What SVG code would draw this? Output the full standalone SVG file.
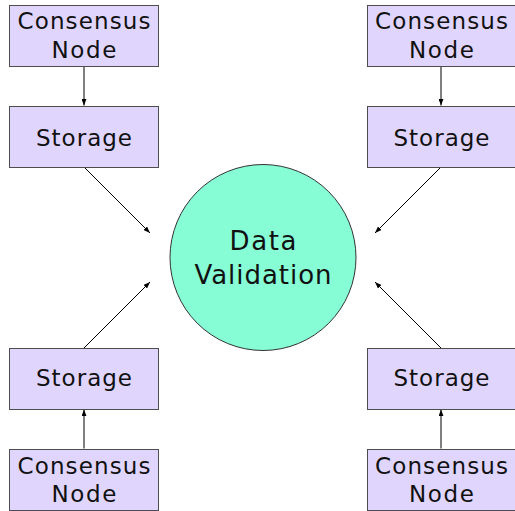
<svg xmlns="http://www.w3.org/2000/svg" width="515" height="511" viewBox="0 0 515 511">
  <style>
    .box { fill: #e0d6fd; stroke: #4d4d4d; stroke-width: 1; }
    .hub { fill: #86fdd4; stroke: #333; stroke-width: 1; }
    .lbl { font-family: "DejaVu Sans", "Liberation Sans", sans-serif; font-size: 23px; fill: #111; text-anchor: middle; }
    .big { font-size: 26px; }
    .edge { stroke: #000; stroke-width: 1; fill: none; marker-end: url(#arrow); }
  </style>
  <defs>
    <marker id="arrow" viewBox="0 0 8 6" refX="8" refY="3" markerWidth="7" markerHeight="5" markerUnits="userSpaceOnUse" orient="auto">
      <path d="M0,0 L8,3 L0,6 z" fill="#000"/>
    </marker>
  </defs>

  <g id="connectors">
    <line class="edge" x1="84" y1="66.5" x2="84" y2="105.5"/>
    <line class="edge" x1="441" y1="66.5" x2="441" y2="105.5"/>
    <line class="edge" x1="84" y1="448.5" x2="84" y2="409.5"/>
    <line class="edge" x1="441" y1="448.5" x2="441" y2="409.5"/>
    <line class="edge" x1="84" y1="167" x2="150" y2="233"/>
    <line class="edge" x1="441" y1="167" x2="375" y2="233"/>
    <line class="edge" x1="84" y1="348" x2="150" y2="282"/>
    <line class="edge" x1="441" y1="348" x2="375" y2="282"/>
  </g>

  <g id="consensus-tl">
    <rect class="box" x="9.5" y="5.5" width="149" height="61"/>
    <text class="lbl" x="84" y="29" textLength="133" lengthAdjust="spacing">Consensus</text>
    <text class="lbl" x="84" y="58" textLength="65" lengthAdjust="spacing">Node</text>
  </g>
  <g id="storage-tl">
    <rect class="box" x="9.5" y="106.5" width="149" height="61"/>
    <text class="lbl" x="84" y="146" textLength="96" lengthAdjust="spacing">Storage</text>
  </g>

  <g id="consensus-tr">
    <rect class="box" x="367.5" y="5.5" width="149" height="61"/>
    <text class="lbl" x="441.5" y="29" textLength="133" lengthAdjust="spacing">Consensus</text>
    <text class="lbl" x="441.5" y="58" textLength="65" lengthAdjust="spacing">Node</text>
  </g>
  <g id="storage-tr">
    <rect class="box" x="367.5" y="106.5" width="149" height="61"/>
    <text class="lbl" x="441.5" y="146" textLength="96" lengthAdjust="spacing">Storage</text>
  </g>

  <g id="data-validation">
    <circle class="hub" cx="263" cy="257.5" r="93"/>
    <text class="lbl big" x="263" y="250" textLength="67" lengthAdjust="spacing">Data</text>
    <text class="lbl big" x="263" y="284" textLength="137" lengthAdjust="spacing">Validation</text>
  </g>

  <g id="storage-bl">
    <rect class="box" x="9.5" y="348.5" width="149" height="61"/>
    <text class="lbl" x="84" y="386" textLength="96" lengthAdjust="spacing">Storage</text>
  </g>
  <g id="consensus-bl">
    <rect class="box" x="9.5" y="449.5" width="149" height="61"/>
    <text class="lbl" x="84" y="474" textLength="133" lengthAdjust="spacing">Consensus</text>
    <text class="lbl" x="84" y="502" textLength="65" lengthAdjust="spacing">Node</text>
  </g>

  <g id="storage-br">
    <rect class="box" x="367.5" y="348.5" width="149" height="61"/>
    <text class="lbl" x="441.5" y="386" textLength="96" lengthAdjust="spacing">Storage</text>
  </g>
  <g id="consensus-br">
    <rect class="box" x="367.5" y="449.5" width="149" height="61"/>
    <text class="lbl" x="441.5" y="474" textLength="133" lengthAdjust="spacing">Consensus</text>
    <text class="lbl" x="441.5" y="502" textLength="65" lengthAdjust="spacing">Node</text>
  </g>
</svg>
